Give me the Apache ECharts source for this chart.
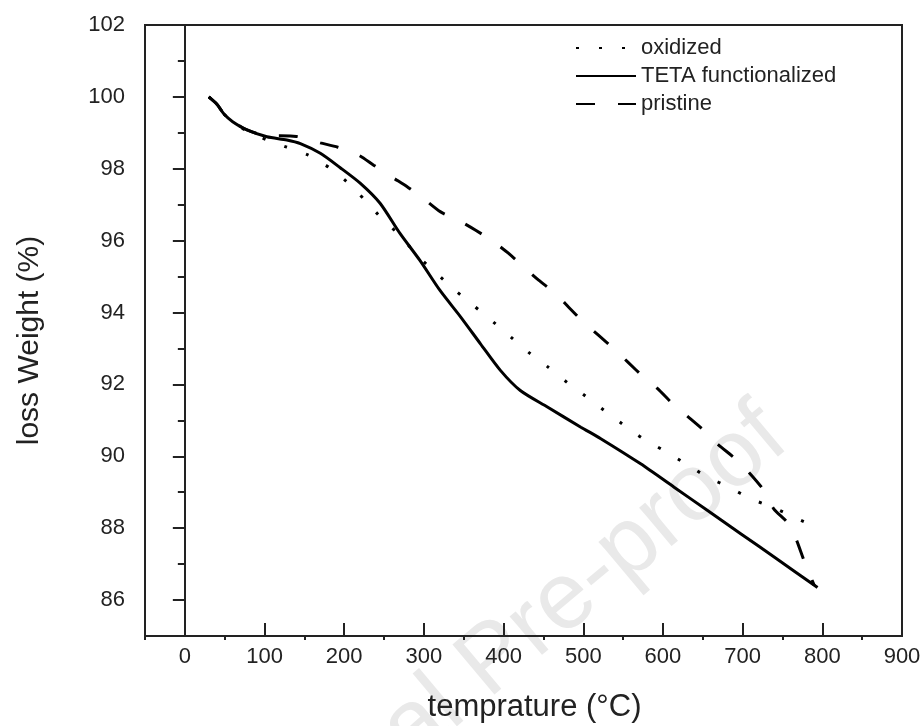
<!DOCTYPE html>
<html><head><meta charset="utf-8">
<script src="https://cdn.jsdelivr.net/npm/echarts@6/dist/echarts.min.js"></script>
<style>html,body{margin:0;padding:0;background:#fff}#c{width:924px;height:726px}</style>
</head><body><div id="c"></div>
<script>
const xTickLabels = [0,100,200,300,400,500,600,700,800,900];
const xMinorTicks = [-50,50,150,250,350,450,550,650,750,850];
const yTickLabels = [86,88,90,92,94,96,98,100,102];
const yMinorTicks = [85,87,89,91,93,95,97,99,101];
const seriesNames = ['oxidized','TETA functionalized','pristine'];

const oxidized = [[30,100.0],[40,99.8],[50,99.5],[60,99.3],[78,99.05],[103,98.8],[128,98.6],[155,98.38],[182,98.02],[203,97.64],[226,97.13],[247,96.62],[272,96.1],[291,95.6],[314,95.13],[339,94.62],[362,94.2],[387,93.74],[409,93.32],[431,92.9],[456,92.48],[480,92.05],[503,91.67],[526,91.28],[549,90.9],[574,90.51],[601,90.16],[629,89.79],[656,89.42],[683,89.14],[710,88.82],[738,88.58],[765,88.3],[794,88.02]];

const teta = [[30,100.0],[40,99.8],[50,99.5],[60,99.31],[78,99.08],[103,98.89],[128,98.8],[145,98.7],[170,98.43],[195,98.03],[220,97.6],[245,97.04],[270,96.2],[295,95.45],[320,94.62],[346,93.88],[371,93.13],[396,92.39],[421,91.83],[455,91.37],[497,90.81],[522,90.49],[572,89.79],[614,89.14],[656,88.49],[698,87.84],[740,87.19],[794,86.35]];

const pristine = [[30,100.0],[40,99.8],[50,99.5],[60,99.31],[78,99.08],[100,98.93],[140,98.9],[170,98.72],[192,98.6],[218,98.38],[237,98.1],[262,97.74],[279,97.5],[299,97.18],[321,96.8],[343,96.57],[365,96.29],[388,95.96],[406,95.65],[427,95.23],[444,94.9],[465,94.53],[482,94.14],[500,93.74],[519,93.37],[538,93.0],[556,92.62],[576,92.2],[593,91.89],[614,91.42],[632,91.09],[654,90.67],[668,90.35],[691,89.93],[706,89.6],[725,89.1],[739,88.54],[756,88.16],[767,87.7],[777,87.1],[790,86.4]];

const FONT = '"Liberation Sans", Arial, sans-serif';
const INK = '#222';
const chart = echarts.init(document.getElementById('c'), null, {renderer:'canvas'});
chart.setOption({
  animation: false,
  backgroundColor: '#fff',
  textStyle: {fontFamily: FONT},
  graphic: [{
    type: 'text', z: 0, silent: true,
    x: 775, y: 425, rotation: 40 * Math.PI / 180,
    style: {text: 'Journal Pre-proof', fontSize: 95, fontFamily: FONT, fill: '#e9e9e9',
            align: 'right', verticalAlign: 'middle'}
  }],
  grid: {left: 145, right: 22, top: 25, bottom: 90, containLabel: false, outerBoundsMode: 'none',
         show: true, borderColor: INK, borderWidth: 2, backgroundColor: 'transparent'},
  legend: {
    orient: 'vertical', left: 575, top: 37, padding: 0, itemWidth: 60, itemHeight: 14, itemGap: 6,
    data: seriesNames,
    itemStyle: {opacity: 0},
    textStyle: {fontFamily: FONT, fontSize: 22, color: INK}
  },
  xAxis: [{
    type: 'value', min: -50, max: 900, interval: 50, position: 'bottom',
    axisLine: {show: true, lineStyle: {color: INK, width: 2}},
    axisTick: {show: true, inside: true, length: 13, customValues: xTickLabels, lineStyle: {color: INK, width: 2}},
    axisLabel: {show: true, customValues: xTickLabels, fontSize: 22, margin: 10, color: INK, fontFamily: FONT},
    splitLine: {show: false},
    name: 'temprature (°C)', nameLocation: 'middle', nameGap: 56,
    nameTextStyle: {fontSize: 31, color: INK, fontFamily: FONT, padding: [0,0,0,22]}
  },{
    type: 'value', min: -50, max: 900, interval: 50, position: 'bottom', offset: 0,
    axisLine: {show: false},
    axisTick: {show: true, inside: false, length: 4, customValues: xMinorTicks, lineStyle: {color: INK, width: 2}},
    axisLabel: {show: false}, splitLine: {show: false}
  }],
  yAxis: [{
    type: 'value', min: 85, max: 102, interval: 1, position: 'left',
    axisLine: {show: true, lineStyle: {color: INK, width: 2}},
    axisTick: {show: true, inside: false, length: 12, customValues: yTickLabels, lineStyle: {color: INK, width: 2}},
    axisLabel: {show: true, customValues: yTickLabels, fontSize: 22, margin: 20, color: INK, fontFamily: FONT},
    splitLine: {show: false},
    name: 'loss Weight (%)', nameLocation: 'middle', nameGap: 100,
    nameTextStyle: {fontSize: 30, color: INK, fontFamily: FONT, padding: [0,20,0,0]}
  },{
    type: 'value', min: 85, max: 102, interval: 1, position: 'left', offset: 0,
    axisLine: {show: false},
    axisTick: {show: true, inside: false, length: 7, customValues: yMinorTicks, lineStyle: {color: INK, width: 2}},
    axisLabel: {show: false}, splitLine: {show: false}
  }],
  series: [
    {name: seriesNames[0], type: 'line', data: oxidized, showSymbol: false, symbol: 'none', z: 3,
     smooth: 0.25,
     lineStyle: {color: '#000', width: 3, type: [3, 20]}, itemStyle: {color: '#000', opacity: 0}},
    {name: seriesNames[1], type: 'line', data: teta, showSymbol: false, symbol: 'none', z: 3,
     smooth: 0.25,
     lineStyle: {color: '#000', width: 3, type: 'solid'}, itemStyle: {color: '#000', opacity: 0}},
    {name: seriesNames[2], type: 'line', data: pristine, showSymbol: false, symbol: 'none', z: 3,
     smooth: 0.25,
     lineStyle: {color: '#000', width: 3, type: [19, 23]}, itemStyle: {color: '#000', opacity: 0}}
  ]
});
</script></body></html>
